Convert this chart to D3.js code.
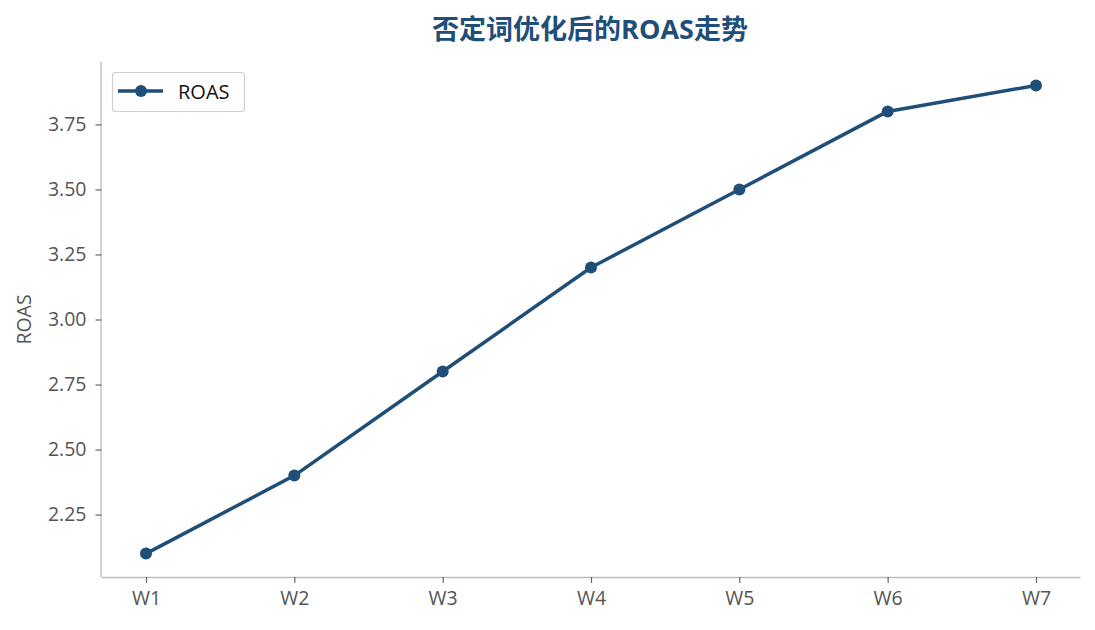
<!DOCTYPE html>
<html><head><meta charset="utf-8">
<script src="https://cdn.jsdelivr.net/npm/d3@7"></script>
<style>body{margin:0;background:#fff;} text{font-family:"Open Sans","Noto Sans CJK SC",sans-serif;}</style>
</head><body>
<svg id="c" width="1095" height="630"></svg>
<script>
const weeks = ["W1","W2","W3","W4","W5","W6","W7"];
const roas = [2.1, 2.4, 2.8, 3.2, 3.5, 3.8, 3.9];
const yTicks = [2.25, 2.5, 2.75, 3.0, 3.25, 3.5, 3.75];
const titleText = "否定词优化后的ROAS走势";
const seriesName = "ROAS";

const color = "#1f4e79";
const svg = d3.select("#c");
const L = 101.5, R = 1080.5, T = 62, B = 577;
const x = d3.scaleLinear().domain([-0.3, 6.3]).range([L, R]);
const y = d3.scaleLinear().domain([2.01, 3.99]).range([B, T]);

// axes
const xAxis = svg.append("g").attr("transform", `translate(0,${B})`)
  .call(d3.axisBottom(x).tickValues(d3.range(weeks.length)).tickFormat(i => weeks[i]).tickSize(6).tickPadding(8));
const yAxis = svg.append("g").attr("transform", `translate(${L},0)`)
  .call(d3.axisLeft(y).tickValues(yTicks).tickFormat(d3.format(".2f")).tickSize(6).tickPadding(9));
[xAxis, yAxis].forEach(g => {
  g.select(".domain").attr("stroke", "#bbbbbb").attr("stroke-width", 1.3);
  g.selectAll(".tick line").attr("stroke", "#666").attr("stroke-width", 1.2);
  g.selectAll(".tick text").attr("fill", "#555").style("font-size", "19.5px");
});
xAxis.select(".domain").attr("d", `M${L},0.5H${R}`);
yAxis.select(".domain").attr("d", `M-0.5,${T}V${B}`);

// y label
svg.append("text").attr("transform", `translate(31,${(T+B)/2}) rotate(-90)`)
  .attr("text-anchor", "middle").attr("fill", "#555").style("font-size", "19.5px").text("ROAS");

// title
svg.append("text").attr("x", (L+R)/2 - 1).attr("y", 39).attr("text-anchor", "middle")
  .attr("fill", color).style("font-size", "27px").style("font-weight", "bold").text(titleText);

// line
const line = d3.line().x((d,i) => x(i)).y(d => y(d));
svg.append("path").datum(roas).attr("d", line).attr("fill", "none")
  .attr("stroke", color).attr("stroke-width", 3.5).attr("stroke-linejoin", "round");
svg.selectAll("circle.pt").data(roas).enter().append("circle").attr("class","pt")
  .attr("cx", (d,i) => x(i)).attr("cy", d => y(d)).attr("r", 6).attr("fill", color);

// legend
const lg = svg.append("g");
lg.append("rect").attr("x", 112.5).attr("y", 72.5).attr("width", 132).attr("height", 39).attr("rx", 3)
  .attr("fill", "#fff").attr("stroke", "#d0d0d0").attr("stroke-width", 1.2);
lg.append("line").attr("x1", 118).attr("x2", 163).attr("y1", 91).attr("y2", 91).attr("stroke", color).attr("stroke-width", 3.5);
lg.append("circle").attr("cx", 141).attr("cy", 91).attr("r", 6).attr("fill", color);
lg.append("text").attr("x", 178).attr("y", 99).attr("fill", "#111").style("font-size", "20px").text(seriesName);
</script>
</body></html>
